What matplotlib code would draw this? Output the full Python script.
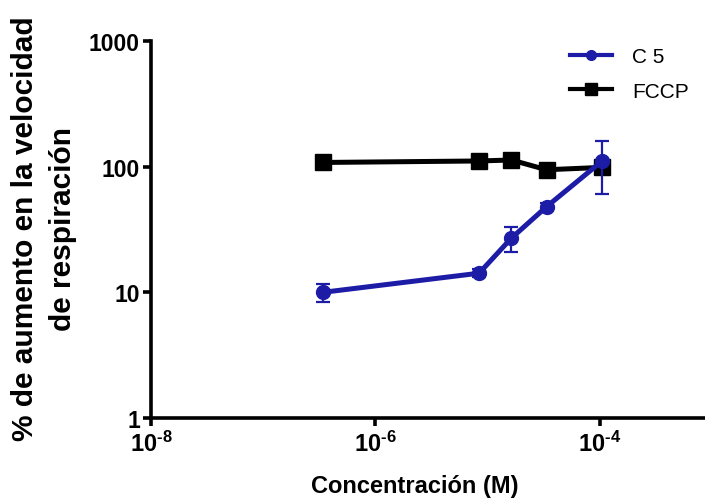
import math
import matplotlib
matplotlib.use("Agg")
import matplotlib.pyplot as plt
from matplotlib.lines import Line2D
from matplotlib.ticker import FixedLocator, FuncFormatter, NullLocator

plt.rcParams['font.family'] = ['Liberation Sans', 'DejaVu Sans']
plt.rcParams['mathtext.fontset'] = 'custom'
plt.rcParams['mathtext.rm'] = 'Liberation Sans:bold'
plt.rcParams['mathtext.bf'] = 'Liberation Sans:bold'
plt.rcParams['mathtext.default'] = 'bf'

# Data
conc = [3.4e-7, 8.4e-6, 1.63e-5, 3.35e-5, 1.05e-4]
c5_mean = [10.0, 14.2, 27.0, 48.0, 111.0]
c5_err = [1.65, 1.0, 6.0, 3.0, 50.0]
fccp_mean = [108.0, 111.0, 113.0, 94.5, 98.7]
series_names = ["C 5", "FCCP"]
xticks = [1e-8, 1e-6, 1e-4]
yticks = [1, 10, 100, 1000]

blue = '#1c1ca6'

fig = plt.figure(figsize=(7.05, 5.02), dpi=100)
ax = fig.add_axes([151/705, 83/502, (712-151)/705, (460-83)/502])

ax.plot(conc, fccp_mean, color='black', lw=3.6, marker='s', ms=11,
        zorder=3, clip_on=False)
ax.errorbar(conc, c5_mean, yerr=c5_err, color=blue, lw=3.6, marker='o',
            ms=10, elinewidth=1.6, capsize=5, capthick=1.6, zorder=4,
            clip_on=False)

ax.set_xscale('log')
ax.set_yscale('log')
ax.set_xlim(1e-8, 1e-3)
ax.set_ylim(1, 1000)

ax.xaxis.set_major_locator(FixedLocator(xticks))
ax.xaxis.set_minor_locator(NullLocator())
ax.yaxis.set_major_locator(FixedLocator(yticks))
ax.yaxis.set_minor_locator(NullLocator())


def xfmt(v, pos):
    e = int(round(math.log10(v)))
    return r'$\mathbf{10^{\text{-}%d}}$' % abs(e)


ax.xaxis.set_major_formatter(FuncFormatter(xfmt))
ax.yaxis.set_major_formatter(FuncFormatter(lambda v, p: '%d' % v))

for s in ['top', 'right']:
    ax.spines[s].set_visible(False)
for s in ['left', 'bottom']:
    ax.spines[s].set_linewidth(2.6)
    ax.spines[s].set_clip_on(False)

ax.tick_params(axis='both', which='major', direction='out', length=6,
               width=2.6, color='black', labelsize=16.5, pad=2)
for lab in ax.get_yticklabels():
    lab.set_fontweight('bold')
ax.tick_params(axis='x', labelsize=17, pad=3)

fig.text(415/705, 1 - 487/502, 'Concentración (M)', fontsize=17,
         fontweight='bold', ha='center', va='center')

fig.text(44/705, 1 - 229/502, '% de aumento en la velocidad\nde respiración',
         fontsize=21.5, fontweight='bold', rotation=90, ha='center',
         va='center', multialignment='center', linespacing=1.45)

handles = [
    Line2D([], [], color=blue, lw=3, marker='o', ms=7),
    Line2D([], [], color='black', lw=3, marker='s', ms=9),
]
leg = ax.legend(handles, series_names, loc='upper left',
                bbox_to_anchor=(570/705, 1 - 48/502),
                bbox_transform=fig.transFigure, frameon=False,
                fontsize=15, handlelength=2.0, handletextpad=1.0,
                labelspacing=0.75, borderpad=0, borderaxespad=0)

fig.savefig('out.png', dpi=100)
